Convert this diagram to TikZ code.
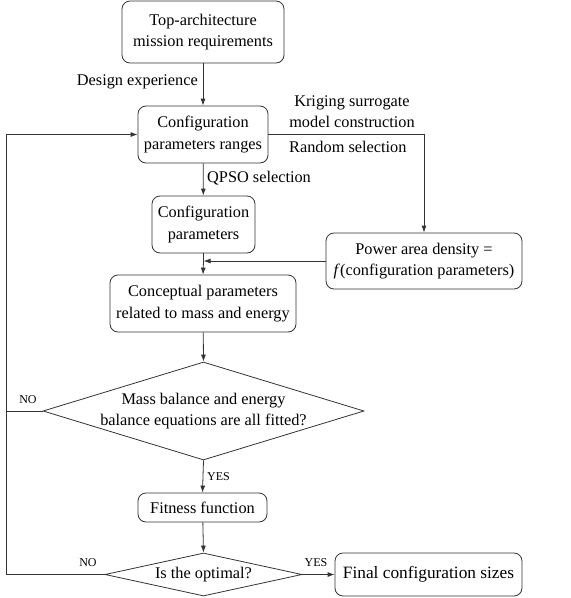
\documentclass[tikz,border=0pt]{standalone}
\usepackage{fontspec}
\setmainfont{Liberation Serif}
\usetikzlibrary{shapes.geometric,arrows.meta,calc}
\begin{document}
\begin{tikzpicture}[x=1pt,y=1pt,
  font=\fontsize{16.3}{21.3}\selectfont,
  line/.style={draw=black!80,line width=0.8pt},
  arr/.style={line,-{Latex[length=7pt,width=5pt]}},
  rbox/.style={line,rounded corners=8pt,align=center,inner sep=0pt},
  dia/.style={line,diamond,inner sep=0pt},
  lab/.style={inner sep=0pt,align=center},
  small/.style={lab,font=\fontsize{12}{14}\selectfont}]
\useasboundingbox (0,0) rectangle (571,-598);
\node[rbox,minimum width=162pt,minimum height=62pt] (top) at (203,-32) {Top-architecture\\mission requirements};
\node[rbox,minimum width=130pt,minimum height=57pt] (cr) at (203,-134.5) {Configuration\\parameters ranges};
\node[rbox,minimum width=103pt,minimum height=57pt] (cp) at (203.5,-224.5) {Configuration\\parameters};
\node[rbox,minimum width=196pt,minimum height=56pt] (pad) at (424,-261) {Power area density =\\\textit{f}(configuration parameters)};
\node[rbox,minimum width=186pt,minimum height=57pt] (cm) at (203,-303.5) {Conceptual parameters\\related to mass and energy};
\node[dia,aspect=3.28,minimum width=321pt,minimum height=98pt] (d1) at (203.5,-411) {};
\node[lab] (t1) at (203.5,-411) {Mass balance and energy\\balance equations are all fitted?};
\node[rbox,minimum width=129pt,minimum height=29pt] (fit) at (202.5,-507.5) {Fitness function};
\node[dia,aspect=4.58,minimum width=197pt,minimum height=43pt] (d2) at (203.5,-574.5) {};
\node[lab] (t2) at (203.5,-574.5) {Is the optimal?};
\node[rbox,minimum width=187pt,minimum height=43pt,font=\fontsize{17.3}{21}\selectfont] (fin) at (428.5,-574.5) {Final configuration sizes};

\node[lab,anchor=east] (lde) at (198,-82) {Design experience};
\node[lab] (lkr) at (352,-112) {Kriging surrogate\\model construction};
\node[lab,anchor=west] (lrs) at (289,-147) {Random selection};
\node[lab,anchor=west] (lq) at (207,-178) {QPSO selection};
\node[small] (ln1) at (28,-400) {NO};
\node[small,anchor=west] (ly1) at (207,-477) {YES};
\node[small] (ln2) at (88,-563) {NO};
\node[small] (ly2) at (316,-563) {YES};

\coordinate (fb1) at (6,-411);
\coordinate (fb2) at (6,-574.5);
\coordinate (jn) at (cp.south |- pad.west);

\draw[arr] (top) -- (cr);
\draw[arr] (cr) -- (cp);
\draw[line] (cp.south) -- (jn);
\draw[arr] (jn) -- (cm.north);
\draw[arr] (pad.west) -- (jn);
\draw[arr] (cr.east) -| (pad.north);
\draw[arr] (cm) -- (d1.north);
\draw[arr] (d1.south) -- (fit.north);
\draw[arr] (fit) -- (d2.north);
\draw[arr] (d2.east) -- (fin.west);
\draw[line] (d1.west) -- (fb1);
\draw[arr] (d2.west) -- (fb2) |- (cr.west);
\end{tikzpicture}
\end{document}
